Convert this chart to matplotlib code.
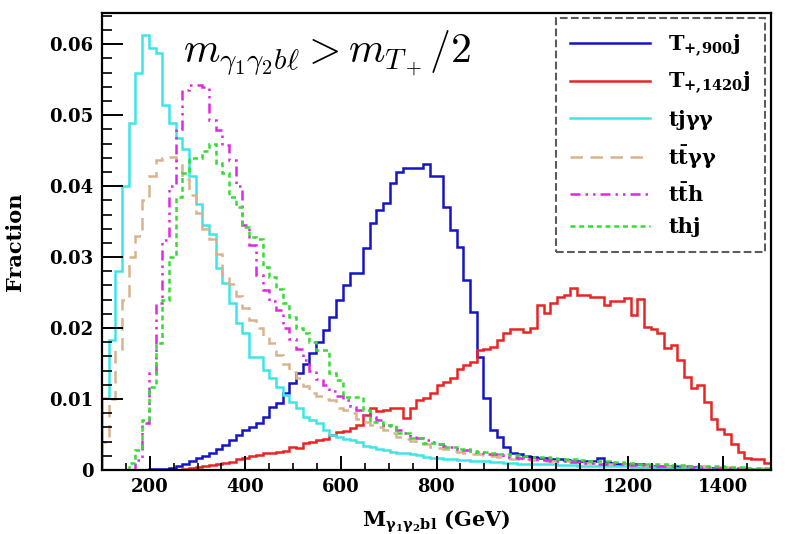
import numpy as np
import matplotlib
matplotlib.use("Agg")
import matplotlib.pyplot as plt
from matplotlib.ticker import MultipleLocator

# 100 bins of 14 GeV between 100 and 1500 GeV
edges = np.linspace(100, 1500, 101)

t900 = [0, 0, 0, 0, 0, 0, 0, 0.0001, 0.0002, 0.0002,
        0.0003, 0.0005, 0.0008, 0.0012, 0.0017, 0.0020, 0.0024, 0.0030, 0.0035, 0.0042,
        0.0049, 0.0056, 0.0060, 0.0066, 0.0075, 0.0089, 0.0094, 0.0108, 0.0122, 0.0136,
        0.0150, 0.0165, 0.0180, 0.0197, 0.0216, 0.0240, 0.0260, 0.0277, 0.0278, 0.0313,
        0.0348, 0.0366, 0.0376, 0.0404, 0.0420, 0.0425, 0.0426, 0.0426, 0.0431, 0.0415,
        0.0414, 0.0370, 0.0338, 0.0314, 0.0268, 0.0222, 0.0159, 0.0101, 0.0056, 0.0046,
        0.0032, 0.0024, 0.0022, 0.0020, 0.0019, 0.0017, 0.0017, 0.0016, 0.0015, 0.0014,
        0.0013, 0.0013, 0.0012, 0.0012, 0.0017, 0.0011, 0.0010, 0.0009, 0.0009, 0.0008,
        0.0008, 0.0007, 0.0006, 0.0006, 0.0005, 0.0005, 0.0004, 0.0004, 0.0004, 0.0003,
        0.0003, 0.0003, 0.0002, 0.0002, 0.0002, 0.0002, 0.0001, 0.0001, 0.0001, 0.0001]

t1420 = [0, 0, 0, 0, 0, 0, 0, 0, 0, 0,
         0, 0, 0.0002, 0.0003, 0.0004, 0.0005, 0.0007, 0.0008, 0.0010, 0.0011,
         0.0015, 0.0017, 0.0020, 0.0021, 0.0024, 0.0024, 0.0026, 0.0027, 0.0033, 0.0031,
         0.0038, 0.0040, 0.0042, 0.0044, 0.0049, 0.0054, 0.0055, 0.0059, 0.0064, 0.0077,
         0.0087, 0.0083, 0.0084, 0.0087, 0.0087, 0.0073, 0.0087, 0.0099, 0.0101, 0.0108,
         0.0120, 0.0124, 0.0130, 0.0143, 0.0148, 0.0152, 0.0169, 0.0171, 0.0173, 0.0183,
         0.0193, 0.0199, 0.0199, 0.0195, 0.0200, 0.0232, 0.0221, 0.0235, 0.0244, 0.0246,
         0.0256, 0.0246, 0.0246, 0.0244, 0.0244, 0.0232, 0.0238, 0.0238, 0.0242, 0.0218,
         0.0241, 0.0201, 0.0199, 0.0193, 0.0172, 0.0176, 0.0155, 0.0131, 0.0115, 0.0120,
         0.0096, 0.0072, 0.0058, 0.0051, 0.0037, 0.0025, 0.0017, 0.0015, 0.0015, 0.0010]

tjaa = [0.0102, 0.0183, 0.0280, 0.0400, 0.0489, 0.0560, 0.0613, 0.0594, 0.0587, 0.0514,
        0.0489, 0.0468, 0.0452, 0.0415, 0.0375, 0.0345, 0.0333, 0.0285, 0.0263, 0.0235,
        0.0207, 0.0193, 0.0159, 0.0159, 0.0141, 0.0130, 0.0117, 0.0106, 0.0096, 0.0087,
        0.0075, 0.0070, 0.0066, 0.0057, 0.0049, 0.0046, 0.0044, 0.0042, 0.0040, 0.0034,
        0.0032, 0.0030, 0.0028, 0.0026, 0.0024, 0.0024, 0.0022, 0.0021, 0.0019, 0.0017,
        0.0017, 0.0016, 0.0015, 0.0014, 0.0014, 0.0013, 0.0012, 0.0012, 0.0011, 0.0011,
        0.0010, 0.0010, 0.0009, 0.0009, 0.0009, 0.0008, 0.0008, 0.0008, 0.0007, 0.0007,
        0.0007, 0.0006, 0.0006, 0.0006, 0.0006, 0.0005, 0.0005, 0.0005, 0.0005, 0.0004,
        0.0004, 0.0004, 0.0004, 0.0003, 0.0003, 0.0003, 0.0003, 0.0003, 0.0003, 0.0002,
        0.0002, 0.0002, 0.0002, 0.0002, 0.0002, 0.0002, 0.0001, 0.0001, 0.0001, 0.0001]

ttaa = [0.0040, 0.0100, 0.0170, 0.0240, 0.0300, 0.0330, 0.0380, 0.0415, 0.0437, 0.0440,
        0.0441, 0.0430, 0.0410, 0.0387, 0.0362, 0.0340, 0.0325, 0.0305, 0.0275, 0.0262,
        0.0245, 0.0228, 0.0212, 0.0200, 0.0188, 0.0179, 0.0162, 0.0150, 0.0138, 0.0130,
        0.0118, 0.0108, 0.0104, 0.0100, 0.0098, 0.0088, 0.0084, 0.0080, 0.0072, 0.0068,
        0.0064, 0.0060, 0.0056, 0.0052, 0.0047, 0.0044, 0.0041, 0.0038, 0.0036, 0.0033,
        0.0031, 0.0029, 0.0027, 0.0026, 0.0024, 0.0023, 0.0022, 0.0021, 0.0020, 0.0019,
        0.0017, 0.0016, 0.0016, 0.0015, 0.0014, 0.0014, 0.0013, 0.0013, 0.0012, 0.0012,
        0.0011, 0.0011, 0.0010, 0.0010, 0.0009, 0.0009, 0.0009, 0.0008, 0.0008, 0.0008,
        0.0007, 0.0007, 0.0007, 0.0006, 0.0006, 0.0006, 0.0005, 0.0005, 0.0005, 0.0005,
        0.0004, 0.0004, 0.0004, 0.0004, 0.0003, 0.0003, 0.0003, 0.0003, 0.0003, 0.0002]

tth = [0, 0, 0, 0, 0, 0.0014, 0.0066, 0.0137, 0.0235, 0.0324,
       0.0400, 0.0480, 0.0535, 0.0542, 0.0542, 0.0540, 0.0493, 0.0479, 0.0458, 0.0437,
       0.0400, 0.0345, 0.0317, 0.0275, 0.0254, 0.0238, 0.0225, 0.0200, 0.0185, 0.0170,
       0.0155, 0.0140, 0.0128, 0.0120, 0.0112, 0.0104, 0.0098, 0.0090, 0.0085, 0.0078,
       0.0075, 0.0070, 0.0064, 0.0060, 0.0056, 0.0052, 0.0048, 0.0045, 0.0042, 0.0040,
       0.0037, 0.0034, 0.0032, 0.0030, 0.0028, 0.0026, 0.0025, 0.0023, 0.0022, 0.0021,
       0.0019, 0.0018, 0.0017, 0.0016, 0.0015, 0.0015, 0.0014, 0.0013, 0.0013, 0.0012,
       0.0011, 0.0011, 0.0010, 0.0010, 0.0009, 0.0009, 0.0008, 0.0008, 0.0008, 0.0007,
       0.0007, 0.0006, 0.0006, 0.0006, 0.0005, 0.0005, 0.0005, 0.0005, 0.0004, 0.0004,
       0.0004, 0.0004, 0.0003, 0.0003, 0.0003, 0.0003, 0.0002, 0.0002, 0.0002, 0.0002]

thj = [0, 0, 0, 0, 0.0010, 0.0028, 0.0070, 0.0117, 0.0179, 0.0240,
       0.0300, 0.0385, 0.0418, 0.0440, 0.0440, 0.0450, 0.0460, 0.0432, 0.0418, 0.0385,
       0.0370, 0.0342, 0.0328, 0.0325, 0.0286, 0.0272, 0.0255, 0.0235, 0.0216, 0.0200,
       0.0193, 0.0180, 0.0169, 0.0169, 0.0137, 0.0127, 0.0103, 0.0103, 0.0103, 0.0085,
       0.0068, 0.0068, 0.0063, 0.0063, 0.0052, 0.0052, 0.0045, 0.0045, 0.0038, 0.0038,
       0.0036, 0.0033, 0.0032, 0.0030, 0.0029, 0.0027, 0.0026, 0.0025, 0.0024, 0.0023,
       0.0022, 0.0021, 0.0021, 0.0020, 0.0019, 0.0018, 0.0018, 0.0017, 0.0016, 0.0015,
       0.0015, 0.0014, 0.0013, 0.0013, 0.0012, 0.0012, 0.0011, 0.0011, 0.0010, 0.0010,
       0.0009, 0.0009, 0.0008, 0.0008, 0.0008, 0.0007, 0.0007, 0.0006, 0.0006, 0.0006,
       0.0005, 0.0005, 0.0005, 0.0004, 0.0004, 0.0004, 0.0003, 0.0003, 0.0003, 0.0003]

labels = [r'T$_{\mathbf{+{,}900}}$j', r'T$_{\mathbf{+{,}1420}}$j', r'tj$\mathbf{\gamma\gamma}$',
          r't$\mathbf{\bar{t}\gamma\gamma}$', r't$\mathbf{\bar{t}}$h', 'thj']
colors = ['#1414c8', '#e82424', '#3ce6e6', '#d8b48e', '#e028e0', '#34dc34']
styles = ['-', '-', '-', (0, (5, 3)), (0, (4, 2, 1, 2, 1, 2)), (0, (2, 1.5))]

plt.rcParams['mathtext.fontset'] = 'dejavuserif'
plt.rcParams['font.family'] = 'DejaVu Serif'
plt.rcParams['font.weight'] = 'bold'

fig = plt.figure(figsize=(7.92, 5.34), dpi=100)
ax = fig.add_axes([102/792, 1-470/534, 669/792, 457/534])

for vals, c, ls, lab in zip([t900, t1420, tjaa, ttaa, tth, thj], colors, styles, labels):
    ax.stairs(vals, edges, color=c, linestyle=ls, linewidth=1.8, label=lab)

ax.set_xlim(100, 1500)
ax.set_ylim(0, 0.0644)
ax.xaxis.set_minor_locator(MultipleLocator(50))
ax.yaxis.set_minor_locator(MultipleLocator(0.002))
ax.set_yticks([0, 0.01, 0.02, 0.03, 0.04, 0.05, 0.06])
ax.set_yticklabels(['0', '0.01', '0.02', '0.03', '0.04', '0.05', '0.06'])
ax.set_xticks([200, 400, 600, 800, 1000, 1200, 1400])
ax.tick_params(axis='y', which='major', direction='in', length=15, width=1.4, labelsize=13, pad=6)
ax.tick_params(axis='y', which='minor', direction='in', length=7.5, width=1.2)
ax.tick_params(axis='x', which='major', direction='in', length=10, width=1.4, labelsize=13, pad=6)
ax.tick_params(axis='x', which='minor', direction='in', length=5, width=1.2)
for s in ax.spines.values():
    s.set_linewidth(1.6)

ax.set_ylabel('Fraction', fontsize=15, fontweight='bold')
ax.yaxis.set_label_coords(-0.115, 0.5)
ax.set_xlabel(r'M$_{\mathbf{\gamma_1\gamma_2 bl}}$ (GeV)', fontsize=15, fontweight='bold')
ax.xaxis.set_label_coords(0.5, -0.085)

fig.text(183/792, 1-62/534, r'$m_{\gamma_1\gamma_2 b\ell} > m_{T_+}/2$',
         fontsize=30, math_fontfamily='cm', va='baseline')

leg = ax.legend(loc='upper right', bbox_to_anchor=(765/792, 1-18/534),
                bbox_transform=fig.transFigure, borderaxespad=0,
                handlelength=3.8, labelspacing=0.55,
                handletextpad=0.9, borderpad=0.7, fancybox=False,
                prop={'weight': 'bold', 'size': 15})
leg.get_frame().set_linestyle('--')
leg.get_frame().set_edgecolor('#333333')
leg.get_frame().set_linewidth(1.5)

fig.savefig('out.png', dpi=100)
